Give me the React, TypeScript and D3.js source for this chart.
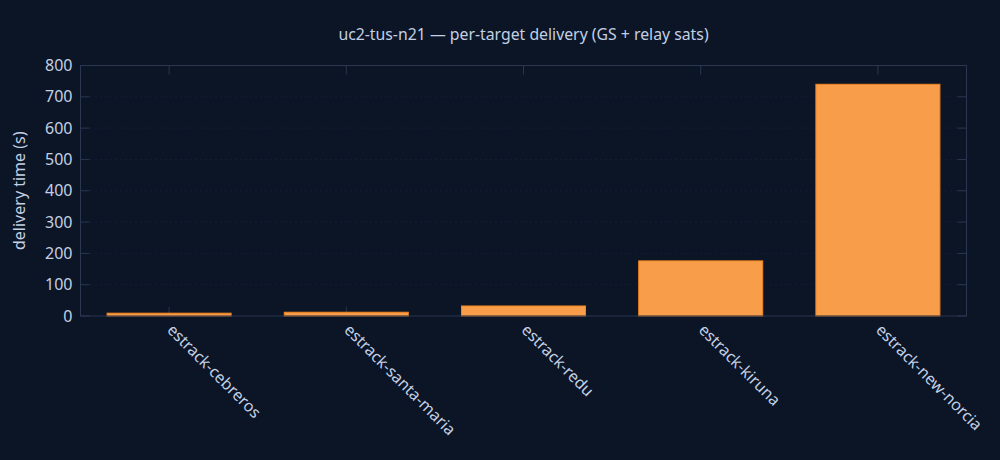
import React from 'react';
import * as d3 from 'd3';

const targets = ['estrack-cebreros', 'estrack-santa-maria', 'estrack-redu', 'estrack-kiruna', 'estrack-new-norcia'];
const deliverySeconds = [9, 12, 32, 176, 740];
const yTicks = [0, 100, 200, 300, 400, 500, 600, 700, 800];

const W = 1000;
const H = 460;
const margin = { top: 65.5, right: 33.5, bottom: 144, left: 80.5 };
const FONT = '"Noto Sans", "Open Sans", sans-serif';
const BG = '#0b1526';
const AXIS = '#2b3650';
const TEXT = '#c3d0e4';

export default function App() {
  const x = d3.scaleBand()
    .domain(targets)
    .range([margin.left, W - margin.right])
    .paddingInner(0.3)
    .paddingOuter(0.15);

  const y = d3.scaleLinear()
    .domain([0, 800])
    .range([H - margin.bottom, margin.top]);

  const x0 = margin.left;
  const x1 = W - margin.right;
  const y0 = H - margin.bottom;
  const y1 = margin.top;
  const tickLen = 9;

  return (
    <svg width={W} height={H} style={{ display: 'block', position: 'absolute', left: 0, top: 0, background: BG }}>
      <rect x={0} y={0} width={W} height={H} fill={BG} />

      {/* title */}
      <text x={(x0 + x1) / 2} y={40} textAnchor="middle" fill={TEXT} fontFamily={FONT} fontSize={15.8}>
        uc2-tus-n21 — per-target delivery (GS + relay sats)
      </text>

      {/* grid */}
      <g stroke="#1d2840" strokeWidth={1} strokeDasharray="1,4">
        {yTicks.filter(t => t > 0 && t < 800).map(t => (
          <line key={t} x1={x0} x2={x1} y1={y(t)} y2={y(t)} />
        ))}
      </g>

      {/* ticks (inside) */}
      <g stroke={AXIS} strokeWidth={1}>
        {yTicks.map(t => (
          <g key={t}>
            <line x1={x0} x2={x0 + tickLen} y1={y(t)} y2={y(t)} />
            <line x1={x1} x2={x1 - tickLen} y1={y(t)} y2={y(t)} />
          </g>
        ))}
        {targets.map(c => {
          const cx = (x(c) || 0) + x.bandwidth() / 2;
          return (
            <g key={c}>
              <line x1={cx} x2={cx} y1={y0} y2={y0 - tickLen} />
              <line x1={cx} x2={cx} y1={y1} y2={y1 + tickLen} />
            </g>
          );
        })}
      </g>

      {/* bars */}
      <g>
        {targets.map((c, i) => (
          <rect
            key={c}
            x={x(c) || 0}
            y={y(deliverySeconds[i])}
            width={x.bandwidth()}
            height={y0 - y(deliverySeconds[i])}
            fill="#f89e4a"
            stroke="#f2861f"
            strokeWidth={1}
          />
        ))}
      </g>

      {/* frame */}
      <rect x={x0} y={y1} width={x1 - x0} height={y0 - y1} fill="none" stroke={AXIS} strokeWidth={1} />

      {/* y tick labels */}
      <g fill={TEXT} fontFamily={FONT} fontSize={16} textAnchor="end">
        {yTicks.map(t => (
          <text key={t} x={x0 - 8} y={y(t)} dy="0.35em">{t}</text>
        ))}
      </g>

      {/* x tick labels */}
      <g fill={TEXT} fontFamily={FONT} fontSize={16}>
        {targets.map(c => {
          const cx = (x(c) || 0) + x.bandwidth() / 2;
          return (
            <text key={c} transform={`translate(${cx + 1},${y0 + 11}) rotate(45)`} textAnchor="start" dy="0.35em">
              {c}
            </text>
          );
        })}
      </g>

      {/* y axis title */}
      <text
        transform={`translate(25,${(y0 + y1) / 2}) rotate(-90)`}
        textAnchor="middle"
        fill={TEXT}
        fontFamily={FONT}
        fontSize={16}
      >
        delivery time (s)
      </text>
    </svg>
  );
}
